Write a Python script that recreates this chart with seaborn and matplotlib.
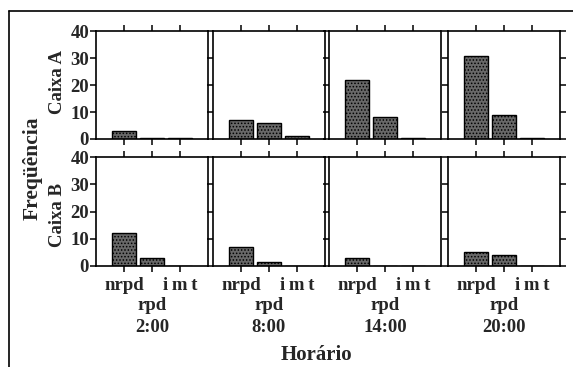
import matplotlib
matplotlib.use("Agg")
import matplotlib.pyplot as plt
import matplotlib.transforms as mtransforms
import seaborn as sns
import pandas as pd

categories = ["nrpd", "rpd", "imt"]
times = ["2:00", "8:00", "14:00", "20:00"]
boxes = ["Caixa A", "Caixa B"]
caixa_a = [[3, 0.5, 0.5], [7, 6, 1], [22, 8, 0.5], [31, 9, 0.5]]
caixa_b = [[12, 3, 0], [7, 1.5, 0], [3, 0, 0], [5, 4, 0]]
yticks = [0, 10, 20, 30, 40]

rows = []
for b, vals in zip(boxes, [caixa_a, caixa_b]):
    for t, v in zip(times, vals):
        for c, f in zip(categories, v):
            rows.append({"caixa": b, "horario": t, "cat": c, "freq": f})
df = pd.DataFrame(rows)

sns.set_style("white")
plt.rcParams["font.family"] = ["Liberation Serif", "DejaVu Serif"]
plt.rcParams["font.weight"] = "bold"
plt.rcParams["hatch.linewidth"] = 0.7

W, H = 573, 367
fig = plt.figure(figsize=(W / 100, H / 100), dpi=100)

col_left = [96, 213, 329, 448]
col_w = 112
row_top = [31.5, 157]
row_h = [107.5, 109]
label_y = [82, 215]

fs = 13.5
for r, b in enumerate(boxes):
    for c, t in enumerate(times):
        ax = fig.add_axes([col_left[c] / W, 1 - (row_top[r] + row_h[r]) / H,
                           col_w / W, row_h[r] / H])
        sub = df[(df.caixa == b) & (df.horario == t)]
        sns.barplot(data=sub, x="cat", y="freq", order=categories, ax=ax,
                    color="#686868", edgecolor="black", linewidth=1.0,
                    width=0.84, saturation=1)
        for p in ax.patches:
            p.set_hatch(".....")
        ax.set_xlim(-1, 3)
        ax.set_ylim(0, 40)
        ax.set_xlabel("")
        ax.set_ylabel("")
        for s in ax.spines.values():
            s.set_visible(True)
            s.set_color("black")
            s.set_linewidth(1.2)
        ax.set_yticks(yticks)
        ax.set_xticks(range(len(categories)))
        ax.tick_params(axis="both", direction="out", length=4, width=1.1,
                       color="black", top=True, bottom=True, left=True,
                       right=(c == 3), labeltop=False, labelbottom=False,
                       labelleft=(c == 0), labelsize=fs, pad=1)
        ax.set_xticklabels([])
        if c == 0:
            ax.set_yticklabels([str(v) for v in yticks], fontweight="bold",
                               fontsize=fs)
            fig.text(58 / W, 1 - label_y[r] / H, b, rotation=90,
                     ha="center", va="center", fontsize=13.5, fontweight="bold")
        if r == 1:
            tr = mtransforms.blended_transform_factory(ax.transData, fig.transFigure)
            ax.text(0, 1 - 285 / H, categories[0], transform=tr, ha="center",
                    va="center", fontsize=fs, fontweight="bold")
            ax.text(2, 1 - 285 / H, "\u2009".join(categories[2]), transform=tr,
                    ha="center", va="center", fontsize=fs, fontweight="bold")
            ax.text(1, 1 - 306 / H, categories[1], transform=tr, ha="center",
                    va="center", fontsize=fs, fontweight="bold")
            ax.text(1, 1 - 327 / H, t, transform=tr, ha="center",
                    va="center", fontsize=fs, fontweight="bold")

fig.text(33 / W, 1 - 168 / H, "Freqüência", rotation=90, ha="center",
         va="center", fontsize=15.5, fontweight="bold")
fig.text(316 / W, 1 - 355 / H, "Horário", ha="center", va="center",
         fontsize=15, fontweight="bold")

# outer frame (top and left edges visible)
fig.add_artist(plt.Line2D([9 / W, 1.0], [1 - 11 / H, 1 - 11 / H],
                          transform=fig.transFigure, color="black", lw=1.2))
fig.add_artist(plt.Line2D([9 / W, 9 / W], [0.0, 1 - 11 / H],
                          transform=fig.transFigure, color="black", lw=1.2))

fig.savefig("out.png", dpi=100, facecolor="white")
